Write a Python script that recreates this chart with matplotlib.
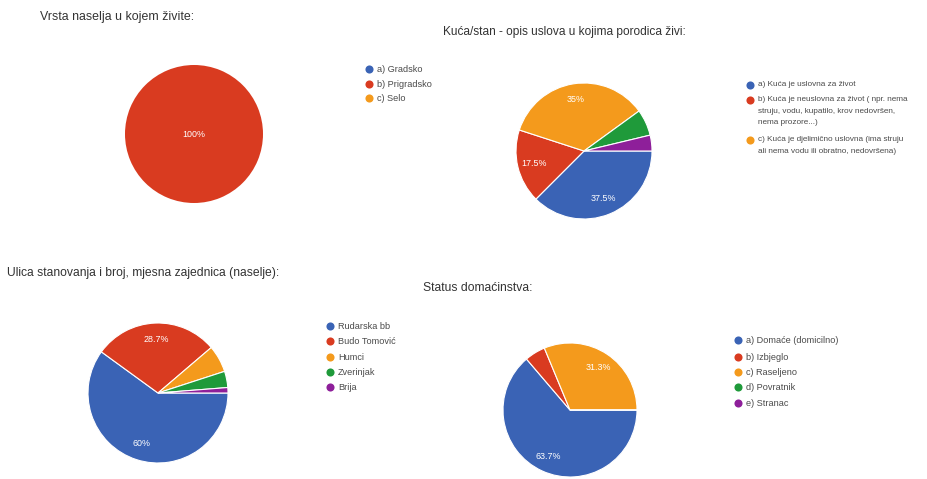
import matplotlib
matplotlib.use('Agg')
import matplotlib.pyplot as plt

plt.rcParams['font.family'] = ['Liberation Sans', 'DejaVu Sans']

# boje (Google Forms paleta, malo izblijedjela na skenu)
colors = ['#3a63b5', '#d93b20', '#f49a1c', '#1f9a3a', '#8e1f9a']

# 1) Vrsta naselja
t1 = 'Vrsta naselja u kojem živite:'
leg1 = ['a) Gradsko', 'b) Prigradsko', 'c) Selo']
val1 = [0, 80, 0]
pct1 = ['', '100%', '']

# 2) Kuća/stan
t2 = 'Kuća/stan - opis uslova u kojima porodica živi:'
leg2 = ['a) Kuća je uslovna za život',
        'b) Kuća je neuslovna za život ( npr. nema\nstruju, vodu, kupatilo, krov nedovršen,\nnema prozore...)',
        'c) Kuća je djelimično uslovna (ima struju\nali nema vodu ili obratno, nedovršena)']
val2 = [30, 14, 28, 5, 3]
pct2 = ['37.5%', '17.5%', '35%', '', '']

# 3) Ulica stanovanja
t3 = 'Ulica stanovanja i broj, mjesna zajednica (naselje):'
leg3 = ['Rudarska bb', 'Budo Tomović', 'Humci', 'Zverinjak', 'Brija']
val3 = [48, 23, 5, 3, 1]
pct3 = ['60%', '28.7%', '', '', '']

# 4) Status domaćinstva
t4 = 'Status domaćinstva:'
leg4 = ['a) Domaće (domicilno)', 'b) Izbjeglo', 'c) Raseljeno', 'd) Povratnik', 'e) Stranac']
val4 = [51, 4, 25, 0, 0]
pct4 = ['63.7%', '', '31.3%', '', '']

W, H = 927, 479
fig = plt.figure(figsize=(W / 100, H / 100), dpi=100)
ax = fig.add_axes([0, 0, 1, 1])


def Y(y):
    # slika ima y prema dolje
    return H - y


def draw_pie(vals, pcts, cx, cy, r, pd=0.76):
    it = iter(pcts)
    single = sum(1 for v in vals if v > 0) == 1
    if single:
        pd = 0.0
    ax.pie(vals, colors=colors[:len(vals)], startangle=0, counterclock=False,
           center=(cx, Y(cy)), radius=r, frame=True, autopct=lambda p: next(it),
           pctdistance=pd,
           wedgeprops=dict(edgecolor='white', linewidth=0 if single else 0.8),
           textprops=dict(color='white', fontsize=6.4))


def draw_legend(items, x, ys, fs, ls=1.5):
    for i, (lab, y) in enumerate(zip(items, ys)):
        ax.scatter([x], [Y(y)], s=34, color=colors[i], zorder=3, linewidths=0)
        ax.text(x + 8, Y(y) + 4.2, lab, fontsize=fs, color='#4a4a4a', va='top',
                ha='left', linespacing=ls)


# naslovi
ax.text(40, Y(17), t1, fontsize=8.9, color='#333333', va='center')
ax.text(443, Y(32), t2, fontsize=8.6, color='#333333', va='center')
ax.text(7, Y(273), t3, fontsize=8.7, color='#333333', va='center')
ax.text(423, Y(288), t4, fontsize=8.7, color='#333333', va='center')

draw_pie(val1, pct1, 194, 134, 69)
draw_legend(leg1, 369, [69, 84, 98], fs=6.6)

draw_pie(val2, pct2, 584, 151, 68)
draw_legend(leg2, 750, [85, 100, 140], fs=5.9, ls=1.95)

draw_pie(val3, pct3, 158, 393, 70)
draw_legend(leg3, 330, [326, 341, 357, 372, 387], fs=6.6)

draw_pie(val4, pct4, 570, 410, 67)
draw_legend(leg4, 738, [340, 357, 372, 387, 403], fs=6.6)

ax.set_xlim(0, W)
ax.set_ylim(0, H)
ax.set_aspect('auto')
ax.axis('off')

fig.savefig('out.png', dpi=100, facecolor='white')
